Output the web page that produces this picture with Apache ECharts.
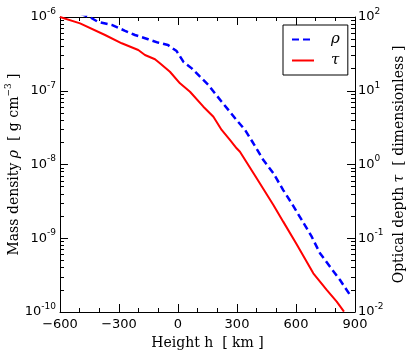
<!DOCTYPE html>
<html>
<head>
<meta charset="utf-8">
<script src="https://cdn.jsdelivr.net/npm/echarts@6/dist/echarts.min.js"></script>
<style>
  html, body { margin: 0; padding: 0; background: #fff; }
  #chart { width: 415px; height: 357px; }
</style>
</head>
<body>
<div id="chart"></div>
<script>
// 高度 (km) 与 密度 rho (g cm^-3)
const rhoHeights = [-600, -447, -407, -337, -269, -219, -152, -102, -51, -7, 27, 70, 112, 154, 188, 222, 256, 298, 341, 383, 434, 485, 535, 578, 629, 680, 722, 773, 824, 875, 883];
const rhoValues = [1.4e-6, 9.9e-7, 8.6e-7, 7.8e-7, 6.5e-7, 5.7e-7, 5.0e-7, 4.5e-7, 4.17e-7, 3.45e-7, 2.48e-7, 2.01e-7, 1.55e-7, 1.2e-7, 9.2e-8, 7.1e-8, 5.5e-8, 4.0e-8, 2.94e-8, 1.94e-8, 1.15e-8, 7.6e-9, 4.5e-9, 2.98e-9, 1.77e-9, 1.05e-9, 6.25e-10, 4.11e-10, 2.71e-10, 1.7e-10, 1.62e-10];

// 高度 (km) 与 光学深度 tau
const tauHeights = [-600, -498, -371, -286, -202, -168, -117, -92, -41, 10, 61, 129, 180, 222, 264, 298, 315, 400, 485, 535, 604, 688, 756, 807, 844];
const tauValues = [100, 82, 57, 44, 35.7, 30.5, 26.7, 23.6, 18.1, 12.6, 9.7, 6.08, 4.45, 2.94, 2.15, 1.66, 1.49, 0.65, 0.283, 0.168, 0.082, 0.0335, 0.0199, 0.0138, 0.0101];

const rhoDecades = [1e-10, 1e-9, 1e-8, 1e-7, 1e-6];
const tauDecades = [1e-2, 1e-1, 1, 10, 100];

// 对数坐标的次刻度 (2..9 × 10^n)
function minorTicks(decades) {
  const out = [];
  for (let i = 0; i < decades.length - 1; i++) {
    for (let k = 2; k <= 9; k++) out.push(k * decades[i]);
  }
  return out;
}

const chart = echarts.init(document.getElementById('chart'));

const tickFont = 'DejaVu Sans';
const serif = 'DejaVu Serif';

const supRich = {
  b: { fontFamily: tickFont, fontSize: 13, lineHeight: 20, color: '#000' },
  s: { fontFamily: tickFont, fontSize: 9, lineHeight: 20, verticalAlign: 'top', color: '#000' }
};

function powLabel(v) {
  const e = Math.round(Math.log10(v));
  return '{b|10}{s|' + e + '}';
}

const nameRich = {
  i: { fontFamily: serif, fontStyle: 'italic', fontSize: 14, lineHeight: 20, color: '#000' },
  s: { fontFamily: serif, fontSize: 9, lineHeight: 20, verticalAlign: 'top', color: '#000' }
};

const axisLine = { show: true, onZero: false, lineStyle: { color: '#000', width: 1 } };

const option = {
  animation: false,
  backgroundColor: '#fff',
  grid: { left: 60, right: 60, top: 17, bottom: 45, outerBoundsMode: 'none', containLabel: false },
  legend: {
    left: 283,
    top: 25,
    orient: 'vertical',
    itemWidth: 22,
    itemHeight: 10,
    itemGap: 6,
    padding: [7, 8, 7, 8],
    borderColor: '#000',
    borderWidth: 1,
    borderRadius: 0,
    itemStyle: { opacity: 0 },
    textStyle: { fontFamily: serif, fontStyle: 'italic', fontSize: 15, color: '#000', padding: [0, 0, 0, 12] },
    data: ['ρ', 'τ']
  },
  xAxis: [
    {
      type: 'value',
      min: -600,
      max: 900,
      interval: 300,
      name: 'Height h  [ km ]',
      nameLocation: 'middle',
      nameGap: 23,
      nameTextStyle: { fontFamily: serif, fontSize: 14, color: '#000' },
      axisLine: axisLine,
      axisTick: { inside: true, length: 8, lineStyle: { color: '#000' } },
      minorTick: { show: true, splitNumber: 3, length: 4, lineStyle: { color: '#000' } },
      axisLabel: {
        margin: 6,
        fontFamily: tickFont,
        fontSize: 13,
        color: '#000',
        formatter: v => (v < 0 ? '\u2212' + Math.abs(v) : String(v))
      },
      splitLine: { show: false }
    },
    {
      type: 'value',
      position: 'top',
      min: -600,
      max: 900,
      interval: 300,
      axisLine: axisLine,
      axisTick: { inside: true, length: 8, lineStyle: { color: '#000' } },
      minorTick: { show: true, splitNumber: 3, length: 4, lineStyle: { color: '#000' } },
      axisLabel: { show: false },
      splitLine: { show: false }
    }
  ],
  yAxis: [
    {
      type: 'log',
      logBase: 10,
      min: 1e-10,
      max: 1e-6,
      position: 'left',
      name: 'Mass density {i|ρ}  [ g cm{s|−3} ]',
      nameLocation: 'middle',
      nameGap: 36,
      nameMoveOverlap: false,
      nameTextStyle: { fontFamily: serif, fontSize: 14, color: '#000', rich: nameRich },
      axisLine: axisLine,
      axisTick: { inside: true, length: 8, customValues: rhoDecades, lineStyle: { color: '#000' } },
      axisLabel: { margin: 4, customValues: rhoDecades, formatter: powLabel, rich: supRich },
      splitLine: { show: false }
    },
    {
      type: 'log',
      logBase: 10,
      min: 1e-2,
      max: 100,
      position: 'right',
      name: 'Optical depth {i|τ}  [ dimensionless ]',
      nameLocation: 'middle',
      nameGap: 34,
      nameRotate: 90,
      nameMoveOverlap: false,
      nameTextStyle: { fontFamily: serif, fontSize: 14, color: '#000', rich: nameRich },
      axisLine: axisLine,
      axisTick: { inside: true, length: 8, customValues: tauDecades, lineStyle: { color: '#000' } },
      axisLabel: { margin: 3, customValues: tauDecades, formatter: powLabel, rich: supRich },
      splitLine: { show: false }
    },
    {
      type: 'log',
      logBase: 10,
      min: 1e-10,
      max: 1e-6,
      position: 'left',
      axisLine: { show: false, onZero: false },
      axisTick: { inside: true, length: 4, customValues: minorTicks(rhoDecades), lineStyle: { color: '#000' } },
      axisLabel: { show: false },
      splitLine: { show: false }
    },
    {
      type: 'log',
      logBase: 10,
      min: 1e-2,
      max: 100,
      position: 'right',
      axisLine: { show: false, onZero: false },
      axisTick: { inside: true, length: 4, customValues: minorTicks(tauDecades), lineStyle: { color: '#000' } },
      axisLabel: { show: false },
      splitLine: { show: false }
    }
  ],
  series: [
    {
      name: 'ρ',
      type: 'line',
      xAxisIndex: 0,
      yAxisIndex: 0,
      symbol: 'none',
      color: '#0000ff',
      lineStyle: { color: '#0000ff', width: 2.5, type: [7, 4] },
      data: rhoHeights.map((h, i) => [h, rhoValues[i]])
    },
    {
      name: 'τ',
      type: 'line',
      xAxisIndex: 0,
      yAxisIndex: 1,
      symbol: 'none',
      color: '#ff0000',
      lineStyle: { color: '#ff0000', width: 2 },
      data: tauHeights.map((h, i) => [h, tauValues[i]])
    }
  ]
};

chart.setOption(option);
</script>
</body>
</html>
